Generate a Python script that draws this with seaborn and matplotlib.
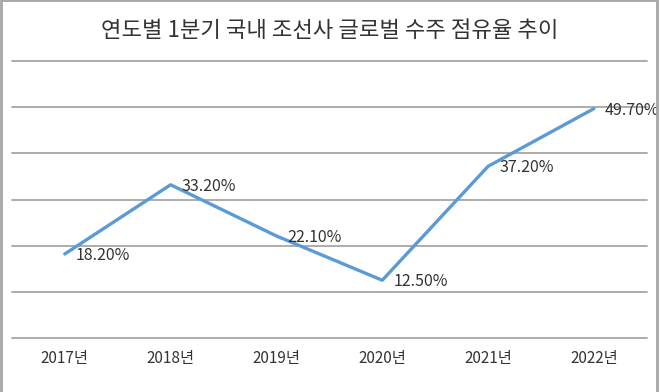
import matplotlib
matplotlib.use("Agg")
import matplotlib.pyplot as plt
import seaborn as sns
import pandas as pd
from matplotlib.patches import Rectangle

# data
years = ["2017년", "2018년", "2019년", "2020년", "2021년", "2022년"]
share = [18.2, 33.2, 22.1, 12.5, 37.2, 49.7]
title = "연도별 1분기 국내 조선사 글로벌 수주 점유율 추이"

df = pd.DataFrame({"year": years, "share": share})

sns.set_theme(style="white")
plt.rcParams["font.family"] = ["Noto Sans CJK KR", "DejaVu Sans"]

fig = plt.figure(figsize=(6.6, 3.92), dpi=100)
ax = fig.add_axes([0.018, 0.138, 0.962, 0.706])

sns.lineplot(data=df, x="year", y="share", ax=ax, color="#5B9BD5",
             linewidth=2.4, sort=False)

for i, v in enumerate(share):
    ax.annotate(f"{v:.2f}%", (i, v), xytext=(8, -1), textcoords="offset points",
                ha="left", va="center", fontsize=11.5, color="#333333")

ax.set_xlim(-0.5, len(years) - 0.5)
ax.set_ylim(0, 60)
ax.set_yticks(range(0, 61, 10))
ax.yaxis.grid(True, color="#a6a6a6", linewidth=1.3)
for g in ax.get_ygridlines():
    g.set_clip_on(False)
ax.set_yticklabels([])
ax.tick_params(axis="y", length=0)
ax.tick_params(axis="x", length=0, pad=9, labelsize=11, labelcolor="#333333")
ax.set_xlabel("")
ax.set_ylabel("")
for s in ax.spines.values():
    s.set_visible(False)
ax.set_axisbelow(True)

fig.text(0.5, 0.923, title, ha="center", va="center", fontsize=16, color="#333333")

# outer chart frame
fig.patches.append(Rectangle((0.002, -0.05), 0.994, 1.049, transform=fig.transFigure,
                             fill=False, edgecolor="#a6a6a6", linewidth=2))

fig.savefig("out.png", dpi=100)
